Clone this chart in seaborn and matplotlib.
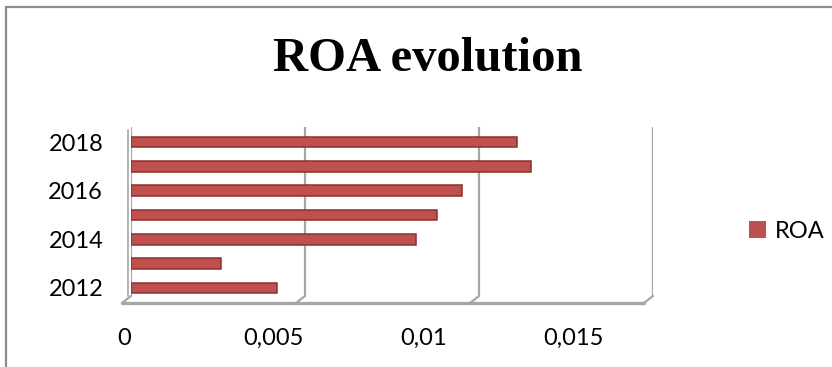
import matplotlib
matplotlib.use("Agg")
import matplotlib.pyplot as plt
from matplotlib.lines import Line2D
from matplotlib.patches import Rectangle
import seaborn as sns
import pandas as pd

# Data
years = ["2012", "2013", "2014", "2015", "2016", "2017", "2018"]
roa = [0.0042, 0.0026, 0.0082, 0.0088, 0.0095, 0.0115, 0.0111]
x_ticks = [0, 0.005, 0.01, 0.015]
x_tick_labels = ["0", "0,005", "0,01", "0,015"]
labeled_years = ["2012", "2014", "2016", "2018"]

sns.set_style("white")
plt.rcParams["font.family"] = ["Lato", "DejaVu Sans"]
plt.rcParams["text.color"] = "#000000"
plt.rcParams["xtick.color"] = "#000000"
plt.rcParams["ytick.color"] = "#000000"

df = pd.DataFrame({"Year": years, "ROA": roa})
order = years[::-1]

W, H = 832, 367
fig = plt.figure(figsize=(W / 100, H / 100), dpi=100)


def fx(px):
    return px / W


def fy(py):
    return 1 - py / H


# Back wall of the plot area
ax = fig.add_axes([fx(131), fy(296), fx(653) - fx(131), fy(127) - fy(296)])
ax.patch.set_alpha(0)

bar_color = "#c0504d"
sns.barplot(data=df, x="ROA", y="Year", order=order, color=bar_color,
            saturation=1, width=0.44, edgecolor="#8a302d", linewidth=1.1,
            ax=ax, zorder=3)

y_top, y_bot = -0.62, 6.33
ax.set_xlim(0, 0.015)
ax.set_ylim(y_bot, y_top)

grid_color = "#a6a6a6"
for v in x_ticks:
    ax.plot([v, v], [y_bot, y_top], color=grid_color, lw=1.6, zorder=1,
            solid_capstyle="butt")

for s in ax.spines.values():
    s.set_visible(False)
ax.set_xticks([])
ax.set_xlabel("")
ax.set_ylabel("")
ax.set_yticks([order.index(y) for y in labeled_years])
ax.set_yticklabels(labeled_years)
ax.tick_params(axis="y", length=0, pad=20, labelsize=17, labelcolor="#000000")

# Floor drawn in perspective: front edge shifted down-left of the back wall
to_fig = fig.transFigure.inverted()
dx, dy = -9, -7
floor_pts = []
for v in x_ticks:
    p = ax.transData.transform((v, y_bot))
    q = (p[0] + dx, p[1] + dy)
    a, b = to_fig.transform(p), to_fig.transform(q)
    fig.add_artist(Line2D([a[0], b[0]], [a[1], b[1]], color=grid_color,
                          lw=1.6, transform=fig.transFigure))
    floor_pts.append(b)
fig.add_artist(Line2D([floor_pts[0][0], floor_pts[-1][0]],
                      [floor_pts[0][1], floor_pts[-1][1]],
                      color=grid_color, lw=2.4, transform=fig.transFigure))
# left wall edge
p0 = to_fig.transform(ax.transData.transform((0, y_top)))
p1 = to_fig.transform(ax.transData.transform((0, y_bot)))
fig.add_artist(Line2D([p0[0] - fx(3), p1[0] - fx(3)], [p0[1] - 3 / H, p1[1]],
                      color=grid_color, lw=1.2, transform=fig.transFigure))

# Value axis labels
lab = fig.add_axes([fx(124), fy(322), fx(573) - fx(124), 0.001])
lab.patch.set_alpha(0)
for s in lab.spines.values():
    s.set_visible(False)
lab.set_xlim(0, 0.015)
lab.set_yticks([])
lab.set_xticks(x_ticks)
lab.set_xticklabels(x_tick_labels)
lab.tick_params(axis="x", length=0, pad=4, labelsize=17, labelcolor="#000000")

# Title
fig.text(fx(428), fy(59), "ROA evolution", ha="center", va="center",
         fontsize=35, fontweight="bold", family="Liberation Serif",
         color="#000000")

# Legend
handle = Rectangle((0, 0), 1, 1, facecolor=bar_color, edgecolor="none")
fig.legend([handle], ["ROA"], loc="center left",
           bbox_to_anchor=(fx(749), fy(231)), frameon=False, fontsize=17,
           handlelength=0.7, handleheight=0.7, handletextpad=0.4,
           borderpad=0, borderaxespad=0)

# Chart border
fig.add_artist(Rectangle((fx(6), -0.1), 1.0, fy(7) + 0.1, fill=False,
                         edgecolor="#8c8c8c", lw=1.6,
                         transform=fig.transFigure))

fig.savefig("out.png", dpi=100)
